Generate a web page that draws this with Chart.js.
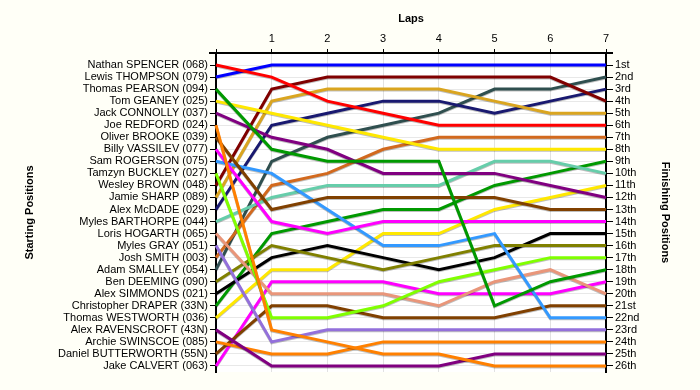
<!DOCTYPE html>
<html lang="en">
<head>
<meta charset="UTF-8">
<title>Lap Chart</title>
<style>
    body {
        margin: 0;
        padding: 0;
        background-color: #FFFFF7;
    }
    #wrap {
        width: 700px;
        height: 390px;
    }
</style>
</head>
<body>
<div id="wrap"><canvas id="lapChart" width="700" height="390"></canvas></div>

<script src="https://cdn.jsdelivr.net/npm/chart.js"></script>
<script>
    // laps (lap 0 = grid)
    const laps = [0, 1, 2, 3, 4, 5, 6, 7];

    // drivers in starting order
    const drivers = [
        'Nathan SPENCER (068)', 'Lewis THOMPSON (079)', 'Thomas PEARSON (094)', 'Tom GEANEY (025)',
        'Jack CONNOLLY (037)', 'Joe REDFORD (024)', 'Oliver BROOKE (039)', 'Billy VASSILEV (077)',
        'Sam ROGERSON (075)', 'Tamzyn BUCKLEY (027)', 'Wesley BROWN (048)', 'Jamie SHARP (089)',
        'Alex McDADE (029)', 'Myles BARTHORPE (044)', 'Loris HOGARTH (065)', 'Myles GRAY (051)',
        'Josh SMITH (003)', 'Adam SMALLEY (054)', 'Ben DEEMING (090)', 'Alex SIMMONDS (021)',
        'Christopher DRAPER (33N)', 'Thomas WESTWORTH (036)', 'Alex RAVENSCROFT (43N)',
        'Archie SWINSCOE (085)', 'Daniel BUTTERWORTH (55N)', 'Jake CALVERT (063)'
    ];

    // finishing position labels
    const finishLabels = [
        '1st', '2nd', '3rd', '4th', '5th', '6th', '7th', '8th', '9th', '10th', '11th', '12th', '13th',
        '14th', '15th', '16th', '17th', '18th', '19th', '20th', '21st', '22nd', '23rd', '24th', '25th', '26th'
    ];

    // position of each driver at the end of each lap (same order as drivers)
    const lapPositions = [
        [1, 2, 4, 5, 6, 6, 6, 6],
        [2, 1, 1, 1, 1, 1, 1, 1],
        [3, 8, 9, 9, 9, 21, 19, 18],
        [4, 5, 6, 7, 8, 8, 8, 8],
        [5, 7, 8, 10, 10, 10, 11, 12],
        [6, 23, 24, 25, 25, 26, 26, 26],
        [7, 13, 12, 12, 12, 12, 13, 13],
        [8, 14, 15, 14, 14, 14, 14, 14],
        [9, 10, 13, 16, 16, 15, 22, 22],
        [10, 22, 22, 21, 19, 18, 17, 17],
        [11, 3, 2, 2, 2, 2, 2, 4],
        [12, 4, 3, 3, 3, 4, 5, 5],
        [13, 6, 5, 4, 4, 5, 4, 3],
        [14, 12, 11, 11, 11, 9, 9, 10],
        [15, 20, 20, 20, 21, 19, 18, 20],
        [16, 24, 23, 23, 23, 23, 23, 23],
        [17, 11, 10, 8, 7, 7, 7, 7],
        [18, 9, 7, 6, 5, 3, 3, 2],
        [19, 16, 17, 18, 17, 16, 16, 16],
        [20, 17, 16, 17, 18, 17, 15, 15],
        [21, 15, 14, 13, 13, 11, 10, 9],
        [22, 18, 18, 15, 15, 13, 12, 11],
        [23, 26, 26, 26, 26, 25, 25, 25],
        [24, 25, 25, 24, 24, 24, 24, 24],
        [25, 21, 21, 22, 22, 22, 21, 21],
        [26, 19, 19, 19, 20, 20, 20, 19]
    ];

    const lineColours = [
        '#FF0000', '#0000FF', '#009900', '#FFE800', '#800080', '#FF8000', '#804000', '#FF00FF',
        '#3399FF', '#80FF00', '#800000', '#DAA520', '#191970', '#66CDAA', '#E9967A', '#9370DB',
        '#D2691E', '#2F4F4F', '#808000', '#000000', '#009900', '#FFE800', '#800080', '#FF8000',
        '#804000', '#FF00FF'
    ];

    const labelFont = { family: "'Liberation Sans', Arial, sans-serif", size: 11 };
    const titleFont = { family: "'Liberation Sans', Arial, sans-serif", size: 11, weight: 'bold' };

    const datasets = lapPositions.map((row, i) => ({
        label: drivers[i],
        data: laps.map((lap, j) => ({ x: lap, y: row[j] })),
        borderColor: lineColours[i],
        borderWidth: 3,
        pointRadius: 0,
        tension: 0,
        fill: false,
        clip: false
    }));

    // white plot area, soft line shadow, top axis overhang
    const framePlugin = {
        id: 'frame',
        beforeDraw(chart) {
            const { ctx, chartArea: a } = chart;
            ctx.save();
            ctx.fillStyle = '#FFFFFF';
            ctx.fillRect(a.left, a.top, a.right - a.left, a.bottom - a.top);
            ctx.restore();
        },
        beforeDatasetsDraw(chart) {
            const ctx = chart.ctx;
            ctx.save();
            ctx.shadowColor = 'rgba(0, 0, 0, 0.25)';
            ctx.shadowOffsetX = 0;
            ctx.shadowOffsetY = 1;
            ctx.shadowBlur = 0;
        },
        afterDatasetsDraw(chart) {
            chart.ctx.restore();
        },
        afterDraw(chart) {
            const { ctx, chartArea: a } = chart;
            ctx.save();
            ctx.strokeStyle = '#000';
            ctx.lineWidth = 2;
            ctx.beginPath();
            ctx.moveTo(a.left - 7, a.top);
            ctx.lineTo(a.right + 7, a.top);
            ctx.stroke();
            ctx.restore();
        }
    };

    function positionTicks(scale) {
        scale.ticks = finishLabels.map((_, i) => ({ value: i + 1 }));
    }

    new Chart(document.getElementById('lapChart'), {
        type: 'line',
        data: { datasets: datasets },
        plugins: [framePlugin],
        options: {
            responsive: false,
            animation: false,
            events: [],
            layout: { padding: { top: 0, left: 0, right: 0, bottom: 18 } },
            plugins: {
                legend: { display: false },
                tooltip: { enabled: false }
            },
            scales: {
                x: {
                    type: 'linear',
                    position: 'top',
                    min: 0,
                    max: 7,
                    ticks: {
                        stepSize: 1,
                        maxRotation: 0,
                        color: '#000',
                        font: labelFont,
                        padding: 3,
                        callback: v => (v === 0 ? '' : v)
                    },
                    grid: { color: '#E2E2E2', tickColor: '#000', tickLength: 4 },
                    border: { color: '#000', width: 2 },
                    title: { display: true, text: 'Laps', color: '#000', font: titleFont, padding: { top: 12, bottom: 0 } },
                    afterFit: s => { s.height = 53; }
                },
                y: {
                    type: 'linear',
                    position: 'left',
                    reverse: true,
                    min: 0,
                    max: 26.5,
                    afterBuildTicks: positionTicks,
                    ticks: {
                        autoSkip: false,
                        color: '#000',
                        font: labelFont,
                        padding: 2,
                        callback: v => drivers[v - 1]
                    },
                    grid: { color: '#E8E8E8', tickColor: '#000', tickLength: 6 },
                    border: { color: '#000', width: 2 },
                    title: { display: true, text: 'Starting Positions', color: '#000', font: titleFont, padding: { top: 23, bottom: 0 } },
                    afterFit: s => { s.width = 216; }
                },
                y2: {
                    type: 'linear',
                    position: 'right',
                    reverse: true,
                    min: 0,
                    max: 26.5,
                    afterBuildTicks: positionTicks,
                    ticks: {
                        autoSkip: false,
                        color: '#000',
                        font: labelFont,
                        padding: 2,
                        callback: v => finishLabels[v - 1]
                    },
                    grid: { drawOnChartArea: false, tickColor: '#000', tickLength: 7 },
                    border: { color: '#000', width: 2 },
                    title: { display: true, text: 'Finishing Positions', color: '#000', font: titleFont, padding: { top: 28, bottom: 0 } },
                    afterFit: s => { s.width = 94; }
                }
            }
        }
    });
</script>
</body>
</html>
